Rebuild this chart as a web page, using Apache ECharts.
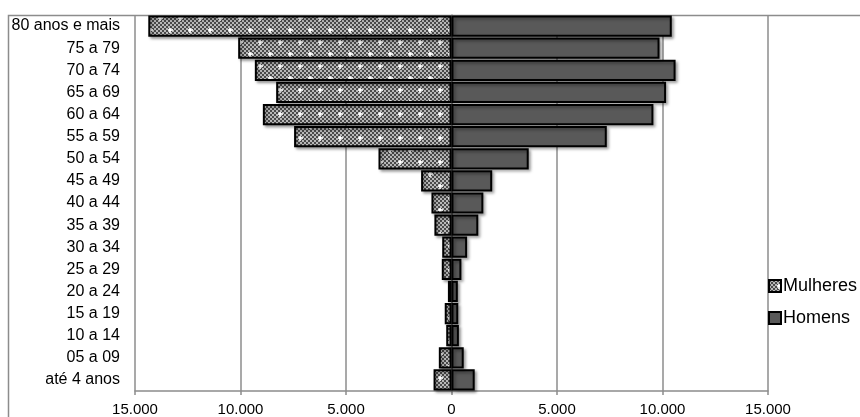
<!DOCTYPE html>
<html>
<head>
<meta charset="utf-8">
<script src="https://cdn.jsdelivr.net/npm/echarts@6/dist/echarts.min.js"></script>
<style>
html,body{margin:0;padding:0;background:#fff;}
#chart{width:860px;height:417px;}
</style>
</head>
<body>
<div id="chart"></div>
<script>
// Data (bottom to top)
var categories = ['até 4 anos','05 a 09','10 a 14','15 a 19','20 a 24','25 a 29','30 a 34','35 a 39','40 a 44','45 a 49','50 a 54','55 a 59','60 a 64','65 a 69','70 a 74','75 a 79','80 anos e mais'];
var mulheres = [850, 600, 250, 320, 170, 460, 440, 810, 950, 1440, 3460, 7460, 8940, 8310, 9320, 10110, 14370];
var homens   = [1100, 580, 350, 320, 300, 470, 740, 1270, 1510, 1930, 3660, 7360, 9570, 10170, 10620, 9860, 10440];
var seriesNames = ['Mulheres','Homens'];
var axisMin = -15000, axisMax = 15000, axisStep = 5000;

function makePattern(){
  var c = document.createElement('canvas');
  c.width = 20; c.height = 24;
  var g = c.getContext('2d');
  for (var y = 0; y < 24; y += 2){
    for (var x = 0; x < 20; x += 2){
      g.fillStyle = (((x + y) / 2) % 2 === 0) ? '#4a4a4a' : '#b8b8b8';
      g.fillRect(x, y, 2, 2);
    }
  }
  function plus(cx, cy){
    g.fillStyle = '#e6e6e6';
    g.fillRect(cx - 2, cy - 1, 5, 2);
    g.fillRect(cx - 1, cy - 2, 2, 5);
    g.fillStyle = '#ffffff';
    g.fillRect(cx - 1, cy - 1, 2, 2);
  }
  plus(10, 6);
  plus(0, 18); plus(20, 18);
  return c;
}
var pattern = {image: makePattern(), repeat: 'repeat'};

function fmt(v){
  var a = Math.abs(v);
  var s = String(a);
  return s.replace(/\B(?=(\d{3})+(?!\d))/g, '.');
}

var font = '"Liberation Sans", Arial, sans-serif';
var chart = echarts.init(document.getElementById('chart'), null, {renderer: 'canvas'});
chart.setOption({
  animation: false,
  backgroundColor: '#fff',
  textStyle: {fontFamily: font},
  grid: {left: 135, right: 92, top: 15, bottom: 26, containLabel: false},
  graphic: [{
    type: 'rect', silent: true, z: -1,
    shape: {x: 8.5, y: 15.5, width: 900, height: 450},
    style: {fill: 'none', stroke: '#8c8c8c', lineWidth: 1.5}
  }],
  legend: {
    orient: 'vertical', left: 763, top: 272,
    itemWidth: 12, itemHeight: 12, itemGap: 14,
    icon: 'rect',
    textStyle: {fontSize: 18, color: '#000', fontFamily: font, padding: [0,0,0,-3]},
    data: seriesNames
  },
  xAxis: {
    type: 'value', min: axisMin, max: axisMax, interval: axisStep,
    axisLine: {show: true, lineStyle: {color: '#8c8c8c', width: 1.5}},
    axisTick: {show: true, length: 4, lineStyle: {color: '#8c8c8c', width: 1.5}},
    splitLine: {show: true, lineStyle: {color: '#8c8c8c', width: 1.5}},
    axisLabel: {fontSize: 15, color: '#000', margin: 11, formatter: fmt, fontFamily: font}
  },
  yAxis: {
    type: 'category', data: categories,
    axisLine: {show: true, lineStyle: {color: '#8c8c8c', width: 1.5}},
    axisTick: {show: false},
    axisLabel: {fontSize: 16, color: '#000', margin: 15, fontFamily: font, padding: [4,0,0,0]}
  },
  series: [{
    name: seriesNames[0], type: 'bar', stack: 'pop',
    barCategoryGap: '4%',
    data: mulheres.map(function(v){ return -v; }),
    itemStyle: {color: pattern, borderColor: '#000', borderWidth: 2,
      shadowColor: 'rgba(0,0,0,0.35)', shadowBlur: 3, shadowOffsetX: 2, shadowOffsetY: 2}
  },{
    name: seriesNames[1], type: 'bar', stack: 'pop',
    barCategoryGap: '4%',
    data: homens,
    itemStyle: {color: '#595959', borderColor: '#000', borderWidth: 2,
      shadowColor: 'rgba(0,0,0,0.35)', shadowBlur: 3, shadowOffsetX: 2, shadowOffsetY: 2}
  }]
});
</script>
</body>
</html>
